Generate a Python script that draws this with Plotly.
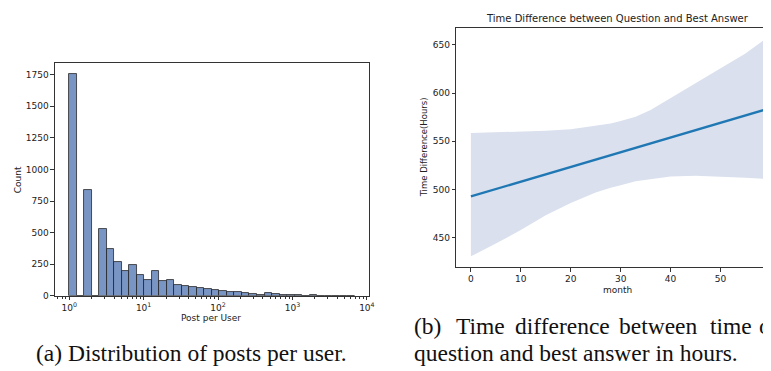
import numpy as np
import plotly.graph_objects as go

# ---------------- data ----------------
# (a) histogram of posts per user, log-spaced bins (bin width in log10 units)
log_bin_width = 0.1009
post_counts = [1755, 0, 840, 0, 530, 372, 268, 195, 242, 164, 125, 195, 115, 122,
               89, 81, 70, 65, 51, 49, 39, 29, 34, 26, 18, 9, 20, 14, 9, 5,
               3, 2, 3, 2, 1, 1, 2, 1]
decade_ticks = [0, 1, 2, 3, 4]
decade_labels = ["10<sup>0</sup>", "10<sup>1</sup>", "10<sup>2</sup>", "10<sup>3</sup>", "10<sup>4</sup>"]
count_ticks = [0, 250, 500, 750, 1000, 1250, 1500, 1750]

# (b) regression of time difference vs month with confidence band
band_months = [0, 3, 5, 10, 15, 20, 25, 28, 30, 33, 36, 40, 45, 50, 55, 59]
band_upper = [558.5, 559.0, 559.5, 560.0, 561.0, 562.5, 566.0, 568.5, 571.0, 575.5,
              582.5, 594.7, 610.0, 625.5, 641.0, 656.0]
band_lower = [430.8, 438.5, 444.0, 458.0, 473.5, 486.0, 497.0, 502.0, 504.5, 508.5,
              511.0, 513.5, 514.3, 513.5, 512.3, 511.0]
line_months = [0, 59]
line_values = [492.9, 582.9]
month_ticks = [0, 10, 20, 30, 40, 50, 60]
hour_ticks = [450, 500, 550, 600, 650]

# ---------------- layout helpers ----------------
W, H = 771, 371
def fx(p):
    return p / W
def fy(p):
    return 1 - p / H

n_bins = len(post_counts)
bin_centers = (np.arange(n_bins) + 0.5) * log_bin_width
minor_vals = [np.log10(m * 10.0 ** d) for d in range(-1, 4) for m in range(2, 10)]
minor_vals = [v for v in minor_vals if -0.19 < v < 4.02]

axis_col = "#333333"
tick_font = dict(family="DejaVu Sans", size=9, color="#222222")

fig = go.Figure()
fig.add_trace(go.Bar(
    x=bin_centers, y=post_counts, width=log_bin_width,
    marker=dict(color="rgba(76,114,176,0.75)", line=dict(color="#2a2a2a", width=0.8)),
    xaxis="x", yaxis="y", showlegend=False, hoverinfo="skip"))

fig.add_trace(go.Scatter(
    x=band_months + band_months[::-1], y=band_upper + band_lower[::-1],
    fill="toself", fillcolor="rgb(218,224,237)", line=dict(width=0),
    mode="lines", xaxis="x2", yaxis="y2", showlegend=False, hoverinfo="skip"))
fig.add_trace(go.Scatter(
    x=line_months, y=line_values, mode="lines",
    line=dict(color="#1f77b4", width=2.2),
    xaxis="x2", yaxis="y2", showlegend=False))

common = dict(showgrid=False, zeroline=False, showline=True, linecolor=axis_col,
              linewidth=1, ticks="outside", ticklen=3.5, tickwidth=0.8,
              tickcolor=axis_col, tickfont=tick_font)

fig.update_layout(
    width=W, height=H, margin=dict(l=0, r=0, t=0, b=0),
    paper_bgcolor="white", plot_bgcolor="white", bargap=0,
    xaxis=dict(domain=[fx(47.3), fx(363.7)], range=[-0.192, 4.027], anchor="y",
               tickmode="array", tickvals=decade_ticks, ticktext=decade_labels,
               mirror=True,
               minor=dict(tickmode="array", tickvals=minor_vals, ticks="outside",
                          ticklen=2, tickwidth=0.6, tickcolor=axis_col, showgrid=False),
               **common),
    yaxis=dict(domain=[fy(291.7), fy(55.7)], range=[0, 1843.5], anchor="x",
               tickmode="array", tickvals=count_ticks, mirror=True, **common),
    xaxis2=dict(domain=[fx(451.7), 1.0], range=[-2.95, 60.53], anchor="y2",
                tickmode="array", tickvals=month_ticks, mirror=True, **common),
    yaxis2=dict(domain=[fy(262.7), fy(20)], range=[419.6, 667.7], anchor="x2",
                tickmode="array", tickvals=hour_ticks, mirror=False, **common),
)

lab_font = dict(family="DejaVu Sans", size=9, color="#222222")
cap_font = dict(family="Liberation Serif", size=23.5, color="#111111")
annos = [
    dict(text="Count", x=fx(10), y=fy(173.7), textangle=-90, font=lab_font),
    dict(text="Post per User", x=fx(205), y=fy(314.5), font=lab_font),
    dict(text="Time Difference(Hours)", x=fx(419.5), y=fy(141), textangle=-90,
         font=dict(family="DejaVu Sans", size=8.5, color="#222222")),
    dict(text="month", x=fx(614.5), y=fy(285.5), font=lab_font),
    dict(text="Time Difference between Question and Best Answer", x=fx(614.3), y=fy(10.5),
         font=dict(family="DejaVu Sans", size=10, color="#222222")),
    dict(text="(a) Distribution of posts per user.", x=fx(185), y=fy(350), font=cap_font),
    dict(text="question and best answer in hours.", x=fx(407), y=fy(350), xanchor="left",
         font=cap_font),
    dict(text="o", x=1.0, y=fy(322), xanchor="right", font=cap_font),
]
for word, xp in [("(b)", 407), ("Time", 450), ("difference", 509.3),
                 ("between", 613.3), ("time", 705)]:
    annos.append(dict(text=word, x=fx(xp), y=fy(322), xanchor="left", font=cap_font))

for a in annos:
    a.setdefault("xanchor", "center")
    a.update(xref="paper", yref="paper", yanchor="middle", showarrow=False)
fig.update_layout(annotations=annos)

fig.write_html("out.html")
